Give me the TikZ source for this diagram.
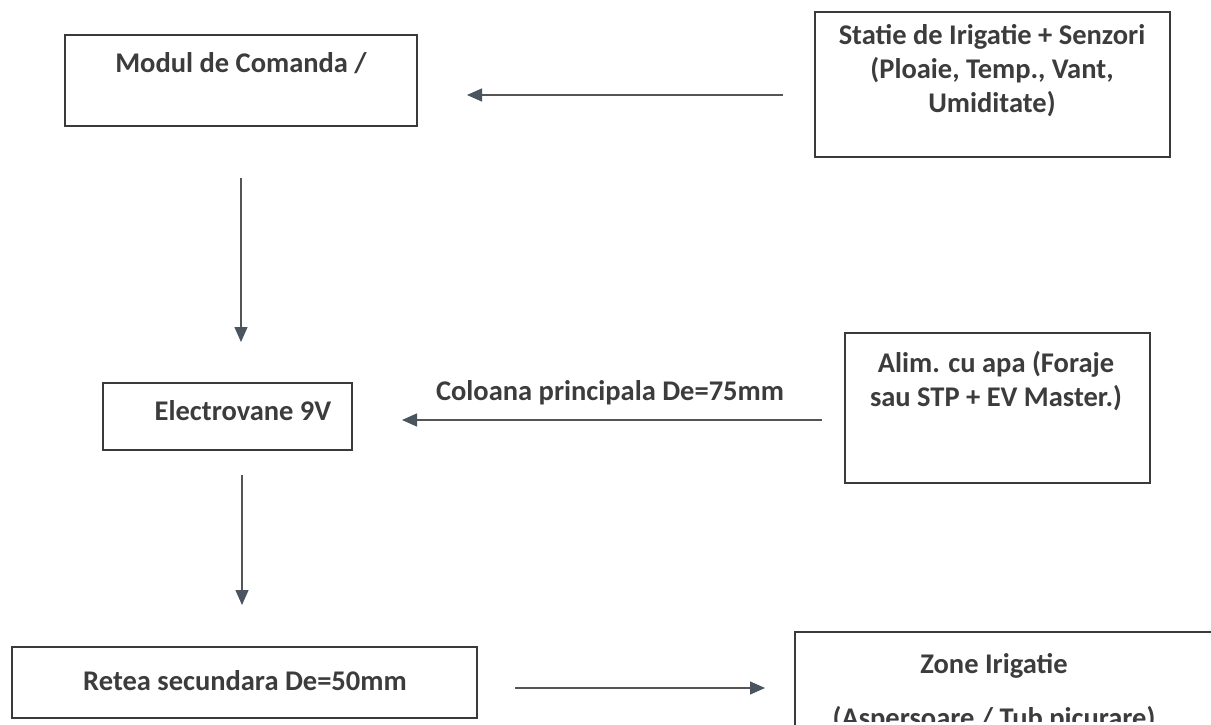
\documentclass[tikz,border=0pt]{standalone}
\usepackage{fontspec}
\setmainfont{Carlito}
\usetikzlibrary{arrows.meta}
\definecolor{txt}{HTML}{3C3C3C}
\definecolor{edge}{HTML}{3A3A3A}
\definecolor{wire}{HTML}{555555}
\definecolor{head}{HTML}{4A5560}
\tikzset{
  box/.style={draw=edge, line width=1.3pt, inner sep=0pt, fill=none},
  lbl/.style={text=txt, font=\fontsize{28.5}{33.8}\selectfont\bfseries, inner sep=0pt, align=center},
  conn/.style={draw=wire, line width=1.3pt, -{Triangle[length=15pt,width=13pt,fill=head,color=head]}},
}
\begin{document}
\begin{tikzpicture}[x=1pt,y=-1pt]
\useasboundingbox (0,0) rectangle (1211,725);
\fill[white] (0,0) rectangle (1211,725);
\begin{scope}
\clip (0,0) rectangle (1211,725);
% boxes
\node[box, minimum width=352pt, minimum height=91pt] (modul) at (241,80.5) {};
\node[box, minimum width=355pt, minimum height=145pt] (statie) at (992.5,84.5) {};
\node[box, minimum width=249pt, minimum height=67pt] (electro) at (227.5,416.5) {};
\node[box, minimum width=305pt, minimum height=150pt] (alim) at (997.5,408) {};
\node[box, minimum width=465pt, minimum height=71pt] (retea) at (244.5,682.5) {};
\node[box, minimum width=445pt, minimum height=148pt] (zone) at (1017.5,706) {};
% texts
\node[lbl, anchor=base] (tmodul) at (241,73) {Modul de Comanda /};
\node[lbl] (tstatie) at (992,70.5) {Statie de Irigatie + Senzori\\(Ploaie, Temp., Vant,\\Umiditate)};
\node[lbl, anchor=base] (telectro) at (243,420) {Electrovane 9V};
\node[lbl] (talim) at (996,381) {Alim. cu apa (Foraje\\sau STP + EV Master.)};
\node[lbl, anchor=base] (tcol) at (610,400) {Coloana principala De=75mm};
\node[lbl, anchor=base] (tretea) at (245,690) {Retea secundara De=50mm};
\node[lbl, anchor=base] (tzone) at (994,673) {Zone Irigatie};
\begin{scope}
\clip (795,690) rectangle (1211,721);
\node[lbl, anchor=base] (tzone2) at (994,727) {(Aspersoare / Tub picurare)};
\end{scope}
% connector ends
\coordinate (a1s) at (783,95);  \coordinate (a1e) at (467,95);
\coordinate (a2s) at (241,178); \coordinate (a2e) at (241,342);
\coordinate (a3s) at (822,420); \coordinate (a3e) at (402,420);
\coordinate (a4s) at (242,475); \coordinate (a4e) at (242,605);
\coordinate (a5s) at (515,688); \coordinate (a5e) at (765,688);
\draw[conn] (a1s) -- (a1e);
\draw[conn] (a2s) -- (a2e);
\draw[conn] (a3s) -- (a3e);
\draw[conn] (a4s) -- (a4e);
\draw[conn] (a5s) -- (a5e);
\end{scope}
\end{tikzpicture}
\end{document}
